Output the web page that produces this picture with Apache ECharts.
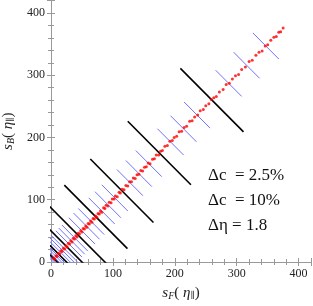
<!DOCTYPE html>
<html><head><meta charset="utf-8">
<script src="https://cdn.jsdelivr.net/npm/echarts@6/dist/echarts.min.js"></script>
<style>html,body{margin:0;padding:0;background:#fff}#c{width:313px;height:306px}</style>
</head><body><div id="c"></div>
<script>
// data
const tickValues = [0, 100, 200, 300, 400];
const blackCenters = [260, 175, 114.5, 72.5, 43.5, 25, 12.5, 5];
const blueCenters = [347, 316, 287, 236, 214, 193, 158, 142, 127.5, 103, 92, 82, 65, 57.5, 50, 38.5, 33.5, 29, 21.5, 18.5, 15.5, 10.5, 8.5, 6.5, 3.5, 2];
const redX = [375,371,368,364,360,355,350,346,341,336,331,325,320,314,308,303,298,293,288,283,278,272,267,263,259,255,250,246,241,237,232,228,224,219,215,211,207,203,199,196,192,188,184,180,177,174,170,167,164,160,157,154,151,148,145,142,139,136,133,130,127,124,121,118,115,112,110,107,104,102,99,97,94,92,89,87,85,82,80,78,76,74,72,70,68,66,64,62,60,58,56,54,52,50,48,46,44,42,40,38,36,34,32,30,28,26,24,22,20,18,16,14,12,10,8,6,4];
const redY = [376,370,369,362,361,356,349,347,339,337,332,324,322,313,309,301,299,294,287,285,277,273,266,264,261,254,251,245,243,236,233,227,226,218,216,210,209,202,200,195,194,187,186,179,178,172,172,166,165,158,159,153,152,146,147,141,140,134,135,129,129,122,123,116,117,111,112,105,106,101,101,95,96,90,91,86,87,80,82,77,78,72,74,69,70,64,66,61,62,56,58,53,54,48,50,45,46,40,42,37,38,32,34,29,30,24,26,21,22,17,18,13,14,9,10,5,6];
const annotations = ['\u0394c  = 2.5%', '\u0394c  = 10%', '\u0394\u03b7 = 1.8'];

// styles
const BLACK_HALF = 51, BLUE_HALF = 21;
const serif = '"Liberation Serif", "DejaVu Serif", serif';
const axisCol = '#999';

function seg(c, h) { return [[c - h, c + h], [c + h, c - h]]; }
const series = [];
blueCenters.forEach(c => series.push({type:'line', data: seg(c, BLUE_HALF), symbol:'none', silent:true,
  lineStyle:{color:'#7070ff', width:1}, clip:true, z:2}));
blackCenters.forEach(c => series.push({type:'line', data: seg(c, BLACK_HALF), symbol:'none', silent:true,
  lineStyle:{color:'#000', width:1.6}, clip:true, z:3}));
series.push({type:'scatter', data: redX.map((x, i) => [x, redY[i]]), symbolSize: 3,
  itemStyle:{color:'#ff0000'}, z:4, clip:true});

const rich = {
  i:{fontFamily:serif, fontStyle:'italic', fontSize:15, color:'#222'},
  sub:{fontFamily:serif, fontStyle:'italic', fontSize:10, color:'#222', verticalAlign:'bottom', padding:[6,0,0,0]},
  n:{fontFamily:serif, fontSize:15, color:'#222'},
  s2:{fontFamily:serif, fontSize:9, color:'#222', padding:[6,0,0,0]}
};
function axisBase(show) {
  return {type:'value', min:0, max:420, interval:100,
    axisLine:{show:true, lineStyle:{color:axisCol, width:1}},
    axisTick:{show:true, inside:true, length:4, lineStyle:{color:axisCol}},
    minorTick:{show:true, splitNumber:5, length:3, lineStyle:{color:axisCol}},
    splitLine:{show:false}, minorSplitLine:{show:false},
    axisLabel:{show:show, color:'#222', fontFamily:serif, fontSize:12, margin:6,
      customValues: tickValues, formatter: v => tickValues.includes(v) ? String(v) : ''}
  };
}
const xMain = Object.assign(axisBase(true), {position:'bottom', name:'{i|s}{sub|F}{n|( }{i|\u03b7}{s2|\u2225}{n|)}',
  nameLocation:'middle', nameGap:23, nameTextStyle:{rich}});
const xTop = Object.assign(axisBase(false), {position:'top'});
const yMain = Object.assign(axisBase(true), {position:'left', name:'{i|s}{sub|B}{n|( }{i|\u03b7}{s2|\u2225}{n|)}',
  nameLocation:'middle', nameGap:25, nameRotate:90, nameTextStyle:{rich}});
const yRight = Object.assign(axisBase(false), {position:'right'});
xTop.axisLabel.show = false; yRight.axisLabel.show = false;

const chart = echarts.init(document.getElementById('c'), null, {renderer:'canvas'});
chart.setOption({
  animation:false,
  grid:{left:51, top:0.5, width:260, height:261.5, containLabel:false, outerBoundsMode:'none'},
  xAxis:[xMain, xTop],
  yAxis:[yMain, yRight],
  series,
  graphic: annotations.map((t, i) => ({type:'text', left:208, top:167 + i*25,
    style:{text:t, font:'17px ' + serif, fill:'#111'}, z:10}))
});
</script></body></html>
